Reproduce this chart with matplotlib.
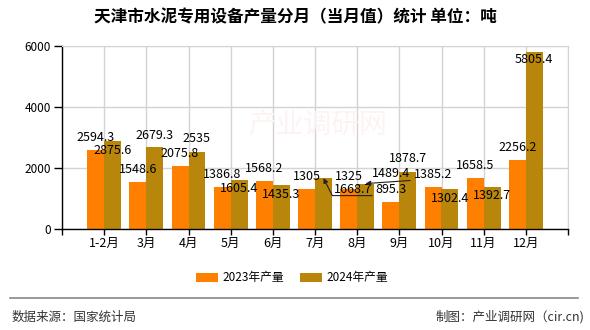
import matplotlib
matplotlib.use("Agg")
import matplotlib.pyplot as plt
import numpy as np

plt.rcParams['font.family'] = ['Noto Sans CJK SC', 'DejaVu Sans']

# data
months = ["1-2月", "3月", "4月", "5月", "6月", "7月", "8月", "9月", "10月", "11月", "12月"]
prod_2023 = [2594.3, 1548.6, 2075.8, 1386.8, 1568.2, 1305, 1325, 895.3, 1385.2, 1658.5, 2256.2]
prod_2024 = [2875.6, 2679.3, 2535, 1605.4, 1435.3, 1668.7, 1489.4, 1878.7, 1302.4, 1392.7, 5805.4]
series_names = ["2023年产量", "2024年产量"]

c23 = "#FF8000"
c24 = "#B8860B"

# label offsets in pixels (dx, dy), dy up positive
off23 = [(0, 12.5)] * len(months)
off24 = [(0, -9), (0, 12), (0, 13), (0, -8), (0, -9), (29.5, -11),
         (25.5, 9.6), (0, 13), (0, -9), (0, -8.5), (0, -8)]
arrow24 = {5: "angle,angleA=0,angleB=-63", 6: "arc3"}

fig = plt.figure(figsize=(5.9, 3.3), dpi=100)
ax = fig.add_axes([62 / 590, 1 - 229 / 330, 506 / 590, 183 / 330])

x = np.arange(len(months))
w = 0.4
ax.bar(x - w / 2, prod_2023, w, color=c23, label=series_names[0], zorder=2)
ax.bar(x + w / 2, prod_2024, w, color=c24, label=series_names[1], zorder=2)

ax.set_xlim(-1, len(months))
ax.set_ylim(0, 6000)
ax.set_yticks([0, 2000, 4000, 6000])
ax.set_xticks(np.arange(-1, len(months) + 1))
ax.set_xticklabels([""] + months + [""])
ax.tick_params(axis="x", length=4, width=1, pad=2, labelsize=9)
ax.tick_params(axis="y", length=6, width=1, pad=2, labelsize=8.5)
ax.grid(True, color="#D3D3D3", lw=1, zorder=0)
ax.set_axisbelow(True)
for s in ["top", "right"]:
    ax.spines[s].set_color("#D3D3D3")
for s in ["left", "bottom"]:
    ax.spines[s].set_color("black")
    ax.spines[s].set_linewidth(1)

# faint watermark inside the plot
ax.text(0.505, 0.57, "产业调研网", transform=ax.transAxes, fontsize=20,
        color="#FDF3F3", ha="center", va="center", zorder=1)

px = 0.72  # points per pixel at dpi 100
for i, v in enumerate(prod_2023):
    dx, dy = off23[i]
    ax.annotate(f"{v:g}", (x[i] - w / 2, v), xytext=(dx * px, dy * px),
                textcoords="offset points", ha="center", va="center",
                fontsize=9, color="black", zorder=5)
for i, v in enumerate(prod_2024):
    dx, dy = off24[i]
    props = None
    if i in arrow24:
        # leader line runs under the label, ends on the bar top
        props = dict(arrowstyle="-|>", color="#222222", lw=0.8, mutation_scale=7,
                     connectionstyle=arrow24[i], relpos=(1, 0), patchA=None,
                     shrinkA=0, shrinkB=0)
    ax.annotate(f"{v:g}", (x[i] + w / 2, v), xytext=(dx * px, dy * px),
                textcoords="offset points", ha="center", va="center",
                fontsize=9, color="black", zorder=5, arrowprops=props)

fig.text(295 / 590, 1 - 17 / 330, "天津市水泥专用设备产量分月（当月值）统计 单位：吨",
         ha="center", va="center", fontsize=12, fontweight="bold")

fig.legend(loc="center", bbox_to_anchor=(292 / 590, 1 - 278 / 330), ncol=2,
           frameon=False, fontsize=8.5, handlelength=1.86, handleheight=0.76,
           handletextpad=0.4, columnspacing=1.35)

fig.add_artist(plt.Line2D([10 / 590, 578 / 590], [1 - 298 / 330] * 2,
                          color="#888888", lw=1.2, transform=fig.transFigure))
fig.text(12 / 590, 1 - 317 / 330, "数据来源：国家统计局", ha="left", va="center",
         fontsize=9, color="#333333")
fig.text(584 / 590, 1 - 317 / 330, "制图：产业调研网（cir.cn)", ha="right", va="center",
         fontsize=9, color="#333333")

fig.savefig("out.png", dpi=100)
